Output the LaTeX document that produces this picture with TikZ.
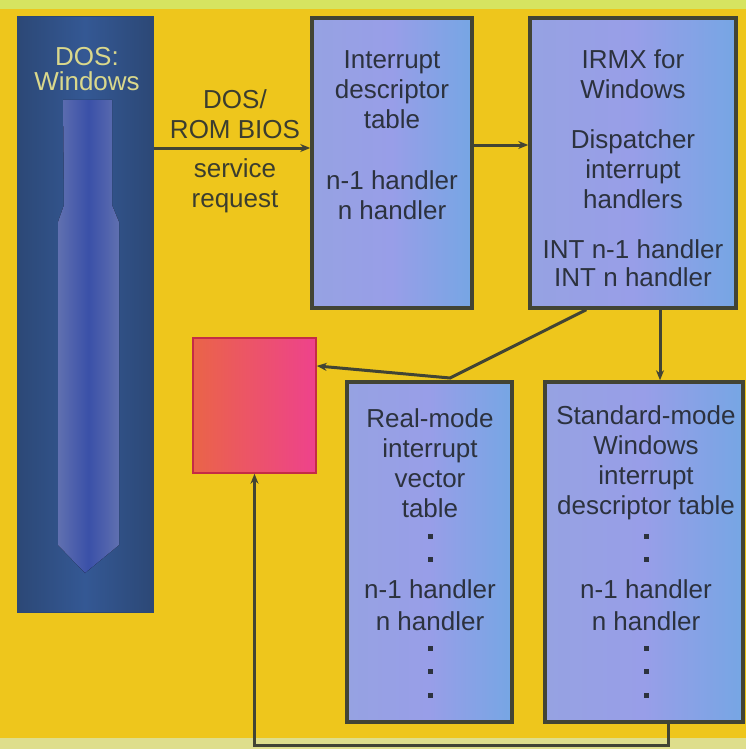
\documentclass[tikz,border=0pt]{standalone}
\usepackage{fontspec}
\setmainfont{Liberation Sans}
\usetikzlibrary{arrows.meta,calc}
\definecolor{bgyel}{RGB}{238,198,28}
\definecolor{topstrip}{RGB}{214,228,96}
\definecolor{botstrip}{RGB}{222,222,140}
\definecolor{boxA}{RGB}{150,162,226}
\definecolor{boxB}{RGB}{118,166,228}
\definecolor{boxC}{RGB}{152,158,232}
\definecolor{edge}{RGB}{66,68,52}
\definecolor{ink}{RGB}{44,50,62}
\definecolor{dosA}{RGB}{44,72,118}
\definecolor{dosB}{RGB}{52,88,148}
\definecolor{colA}{RGB}{96,112,176}
\definecolor{colB}{RGB}{58,80,168}
\definecolor{pale}{RGB}{218,216,140}
\definecolor{redA}{RGB}{234,100,72}
\definecolor{redB}{RGB}{238,66,140}
\definecolor{redE}{RGB}{196,44,70}
\begin{document}
\begin{tikzpicture}[x=1pt,y=-1pt,
  bluebox/.style={draw=edge,line width=3.5pt,left color=boxA,right color=boxB,middle color=boxC,inner sep=0pt},
  txt/.style={text=ink,align=center,font=\fontsize{26}{30}\selectfont,inner sep=0pt},
  conn/.style={draw=edge,line width=3pt},
  arr/.style={conn,-{Stealth[length=10pt,width=8pt]}},
  dotsq/.style={fill=ink}
]
\useasboundingbox (0,0) rectangle (746,749);
\fill[bgyel] (0,0) rectangle (746,749);
\fill[topstrip] (0,0) rectangle (746,9);
\fill[botstrip] (0,738) rectangle (746,749);

% DOS / Windows column
\node[draw=dosA,line width=1pt,left color=dosA,right color=dosA,middle color=dosB,minimum width=136pt,minimum height=595pt,inner sep=0pt] (dos) at (85,314.5) {};
\fill[left color=colA,right color=colA,middle color=colB] (63,100) -- (112,100) -- (112,205) -- (119,222) -- (119,545) -- (85,573) -- (58,545) -- (58,222) -- (64,205) -- cycle;
\node[text=pale,align=center,font=\fontsize{26}{25}\selectfont,inner sep=0pt] (dost) at (87,69) {DOS:\\Windows};

% red square
\node[draw=redE,line width=1.5pt,left color=redA,right color=redB,minimum width=123pt,minimum height=135pt,inner sep=0pt] (red) at (254.5,405.5) {};

% boxes
\node[bluebox,minimum width=160pt,minimum height=290pt] (idt) at (392,163) {};
\node[bluebox,minimum width=206pt,minimum height=290pt] (irmx) at (633,163) {};
\node[bluebox,minimum width=165pt,minimum height=340pt] (real) at (429.5,552) {};
\node[bluebox,minimum width=198pt,minimum height=340pt] (std) at (644,552) {};

% texts
\node[txt] (idt1) at (392,90) {Interrupt\\descriptor\\table};
\node[txt] (idt2) at (392,195) {n-1 handler\\n handler};
\node[txt] (irmx1) at (633,74) {IRMX for\\Windows};
\node[txt] (irmx2) at (633,169) {Dispatcher\\interrupt\\handlers};
\node[txt,font=\fontsize{26}{28}\selectfont] (irmx3) at (633,263) {INT n-1 handler\\INT n handler};
\node[txt] (real1) at (430,463) {Real-mode\\interrupt\\vector\\table};
\node[txt,font=\fontsize{26}{32}\selectfont] (real2) at (430,605) {n-1 handler\\n handler};
\node[txt] (std1) at (646,463) {Standard-mode\\Windows\\interrupt\\descriptor table};
\node[txt,font=\fontsize{26}{32}\selectfont] (std2) at (646,605) {n-1 handler\\n handler};
\node[txt,text=edge!90!black] (lab1) at (235,114) {DOS/\\ROM BIOS};
\node[txt,text=edge!90!black] (lab2) at (235,186) {service\\request};

% dots
\foreach \yy in {536,559,648,671,695}{
  \fill[dotsq] (428,\yy-2.5) rectangle ++(5,5);
  \fill[dotsq] (644,\yy-2.5) rectangle ++(5,5);
}

% connector coordinates
\coordinate (row1) at (0,148);
\coordinate (row2) at (0,145);
\coordinate (colv) at (660,0);
\coordinate (colb) at (668,0);
\coordinate (bot) at (0,745);
\coordinate (dsrc) at ($(irmx.south west)!0.277!(irmx.south east)$);
\coordinate (j) at (450,378);
\coordinate (rin) at ($(red.north east)!0.21!(red.south east)$);

\draw[arr] (dos.east |- row1) -- (idt.west |- row1);
\draw[arr] (idt.east |- row2) -- (irmx.west |- row2);
\draw[arr] (irmx.south -| colv) -- (std.north -| colv);
\draw[arr] (dsrc) -- (j) -- (rin);
\draw[arr] (std.south -| colb) -- (colb |- bot) -- (red.south |- bot) -- (red.south);
\end{tikzpicture}
\end{document}
